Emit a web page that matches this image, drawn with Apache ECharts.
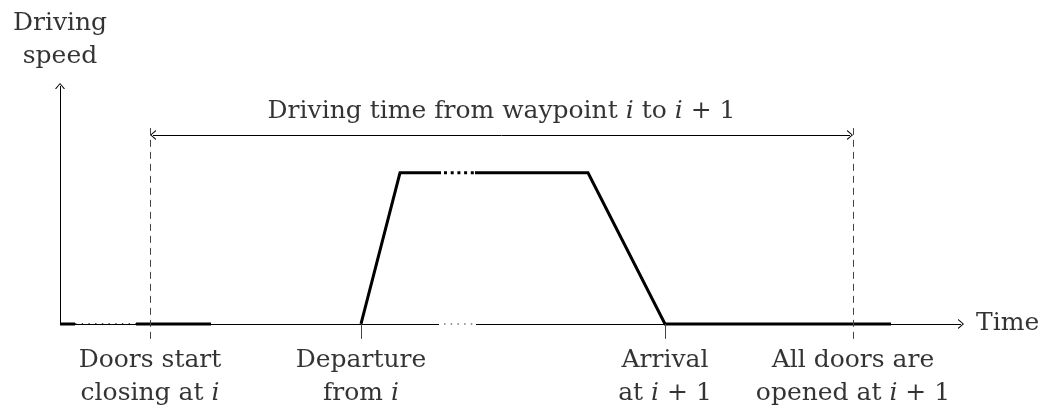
<!DOCTYPE html>
<html>
<head>
<meta charset="utf-8">
<title>Driving time</title>
<script src="https://cdn.jsdelivr.net/npm/echarts@6/dist/echarts.min.js"></script>
<style>
    html, body { margin: 0; padding: 0; background: #fff; }
    #main { width: 1049px; height: 416px; }
</style>
</head>
<body>
<div id="main"></div>
<script>
    // speed profile, x = time units, y = speed units
    var plateau = 6.27;
    var solidSegments = [
        [[0, 0], [1.5, 0]],
        [[7.6, 0], [15.1, 0]],
        [[30.1, 0], [34, plateau], [38.1, plateau]],
        [[41.5, plateau], [52.8, plateau], [60.5, 0], [83.1, 0]]
    ];
    var thinDots = [[1.5, 0], [7.6, 0]];
    var thickDots = [[38.4, plateau], [41.5, plateau]];
    var axisBreak = [37.9, 41.6];

    // events on the time axis
    var eventX = [9, 30.1, 60.5, 79.3];
    var eventDashed = [true, false, false, true];
    var eventLabels = [
        'Doors start\nclosing at {i|i}',
        'Departure\nfrom {i|i}',
        'Arrival\nat {i|i} + 1',
        'All doors are\nopened at {i|i} + 1'
    ];

    var spanY = 7.84;
    var spanLabel = 'Driving time from waypoint {i|i} to {i|i} + 1';
    var yName = 'Driving\nspeed';
    var xName = 'Time';
    var xEnd = 90.4, yEnd = 10, tickBottom = -0.62, dashTop = 8.13;

    var FONT = 'DejaVu Serif';
    var arrow = 'path://M0,10 L5,0 L10,10 L8.8,10.4 L5,2.4 L1.2,10.4 Z';
    var arrowSize = [10, 6];

    var txt = {
        fontFamily: FONT, fontSize: 25, color: '#000', lineHeight: 33,
        rich: { i: { fontFamily: FONT, fontSize: 25, fontStyle: 'italic', color: '#000', lineHeight: 33 } }
    };

    function seg(a, b, style, s1, s2) {
        return [
            { coord: a, symbol: s1 || 'none', symbolSize: arrowSize, lineStyle: style },
            { coord: b, symbol: s2 || 'none', symbolSize: arrowSize }
        ];
    }

    var thin = { color: '#000', width: 1, type: 'solid' };
    var marks = [];
    // axes
    marks.push(seg([0, 0], [0, yEnd - 0.12], thin, 'none', arrow));
    marks.push(seg([0, 0], [axisBreak[0], 0], thin));
    marks.push(seg([axisBreak[0] + 0.5, 0], [axisBreak[1], 0], { color: '#777', width: 1.5, type: [1.5, 5.2] }));
    marks.push(seg([axisBreak[1], 0], [xEnd - 0.3, 0], thin, 'none', arrow));
    // events
    eventX.forEach(function (x, k) {
        if (eventDashed[k]) {
            marks.push(seg([x, tickBottom], [x, dashTop], { color: '#444', width: 1, type: [7, 5] }));
        } else {
            marks.push(seg([x, tickBottom], [x, 0], { color: '#444', width: 1, type: 'solid' }));
        }
    });
    // span arrow
    marks.push(seg([eventX[0] + 0.3, spanY], [eventX[3] - 0.3, spanY], thin, arrow, arrow));

    var series = [];
    solidSegments.forEach(function (d) {
        series.push({
            type: 'line', data: d, symbol: 'none', silent: true, animation: false,
            lineStyle: { color: '#000', width: 3, join: 'miter', cap: 'butt' }
        });
    });
    series.push({
        type: 'line', data: thinDots, symbol: 'none', silent: true, animation: false,
        lineStyle: { color: '#111', width: 1.4, type: [1.4, 5.3] }
    });
    series.push({
        type: 'line', data: thickDots, symbol: 'none', silent: true, animation: false,
        lineStyle: { color: '#000', width: 3, type: [3, 3.7] }
    });
    series.push({
        type: 'line', data: [], silent: true, animation: false,
        markLine: { silent: true, animation: false, label: { show: false }, emphasis: { disabled: true }, data: marks }
    });

    var labelData = eventX.map(function (x, k) {
        return { value: [x, tickBottom], name: eventLabels[k], label: { position: 'bottom', distance: 5 } };
    });
    labelData.push({ value: [(eventX[0] + eventX[3]) / 2, spanY], name: spanLabel, label: { position: 'top', distance: 7 } });
    labelData.push({ value: [0, yEnd], name: yName, label: { position: 'top', distance: 10 } });
    labelData.push({ value: [xEnd, 0], name: xName, label: { position: 'right', distance: 12, align: 'left' } });

    series.push({
        type: 'scatter', data: labelData, symbolSize: 0, silent: true, animation: false,
        label: Object.assign({ show: true, formatter: '{b}', align: 'center' }, txt)
    });

    var myChart = echarts.init(document.getElementById('main'));
    var option = {
        animation: false,
        grid: { left: 60, right: 49, top: 83, bottom: 68 },
        xAxis: { type: 'value', min: 0, max: 94, show: false },
        yAxis: { type: 'value', min: -1, max: 10, show: false },
        series: series
    };
    myChart.setOption(option);
</script>
</body>
</html>
